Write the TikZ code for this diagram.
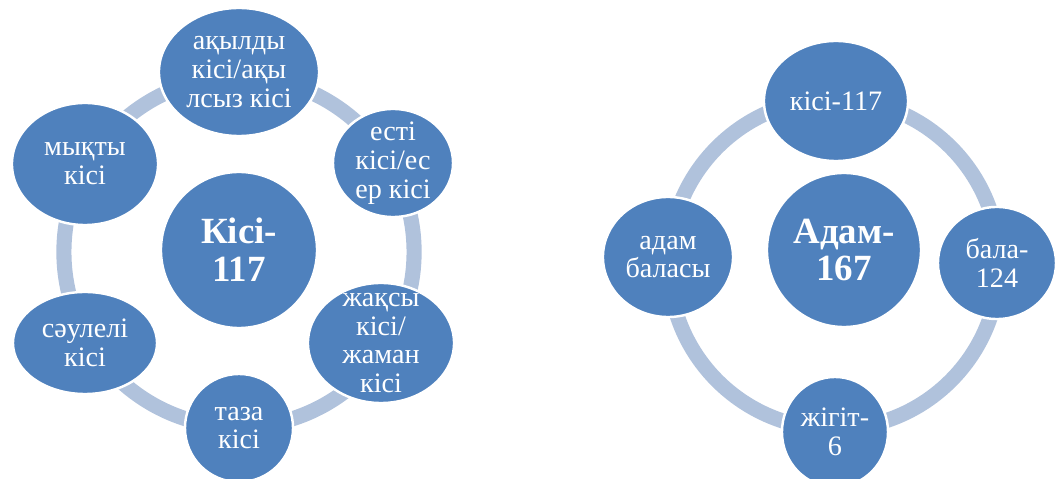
\documentclass[tikz,border=0pt]{standalone}
\usepackage{fontspec}
\setmainfont{Liberation Serif}
\usepackage{tikz}
\usetikzlibrary{shapes.geometric}
\definecolor{blobblue}{HTML}{4F81BD}
\definecolor{ringblue}{HTML}{B0C2DC}

\begin{document}
\begin{tikzpicture}[x=0.01cm,y=-0.01cm,
  blob/.style={ellipse,fill=blobblue,draw=white,line width=0.7pt,text=white,
    align=center,inner sep=-8pt,font=\fontsize{8}{8.2}\selectfont},
  hub/.style={blob,font=\fontsize{10.5}{10.8}\selectfont\bfseries},
  ring/.style={draw=ringblue,line width=4.3pt}]
\useasboundingbox (0,0) rectangle (1056,479);
% left cycle
\coordinate (lc) at (239,252);
\draw[ring] (lc) circle (1.75cm);
\node[hub,minimum width=1.56cm,minimum height=1.56cm] (kisi) at (239,250) {Кісі-\\117};
\node[blob,minimum width=1.60cm,minimum height=1.28cm] (akyl) at (239,72) {ақылды\\кісі/ақы\\лсыз кісі};
\node[blob,minimum width=1.20cm,minimum height=1.08cm] (esti) at (393,163) {есті\\кісі/ес\\ер кісі};
\node[blob,minimum width=1.46cm,minimum height=1.20cm] (zhaksy) at (381,343) {жақсы\\кісі/\\жаман\\кісі};
\node[blob,minimum width=1.08cm,minimum height=1.08cm] (taza) at (239,428) {таза\\кісі};
\node[blob,minimum width=1.44cm,minimum height=1.02cm] (saule) at (85,343) {сәулелі\\кісі};
\node[blob,minimum width=1.46cm,minimum height=1.22cm] (mykty) at (85,164) {мықты\\кісі};
% right cycle
\coordinate (rc) at (834,264);
\draw[ring] (rc) circle (1.65cm);
\node[hub,minimum width=1.54cm,minimum height=1.54cm] (adam) at (844,250) {Адам-\\167};
\node[blob,minimum width=1.44cm,minimum height=1.20cm] (kisi2) at (836,101) {кісі-117};
\node[blob,minimum width=1.18cm,minimum height=1.12cm] (bala) at (997,263) {бала-\\124};
\node[blob,minimum width=1.06cm,minimum height=1.10cm] (zhigit) at (835,432) {жігіт-\\6};
\node[blob,minimum width=1.30cm,minimum height=1.20cm] (adambal) at (668,257) {адам\\баласы};
\end{tikzpicture}
\end{document}
